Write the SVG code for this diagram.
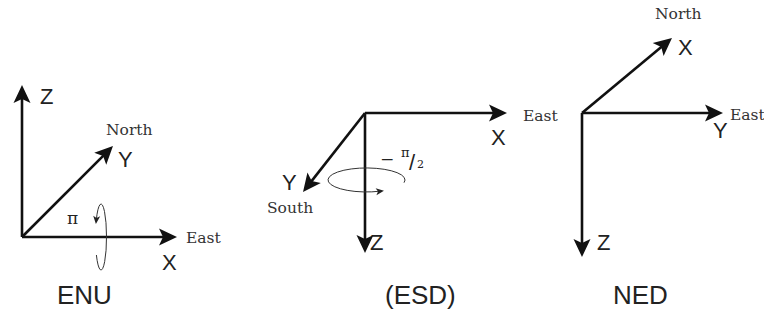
<svg xmlns="http://www.w3.org/2000/svg" width="764" height="320" viewBox="0 0 764 320">
<defs>
<marker id="ah" viewBox="-10 -10 22 20" markerWidth="22" markerHeight="20" refX="0" refY="0" orient="auto" markerUnits="userSpaceOnUse">
<path d="M10,0 L-8,-8.5 L-4,0 L-8,8.5 Z" fill="#111"/>
</marker>
<marker id="sm" viewBox="-6 -6 12 12" markerWidth="12" markerHeight="12" refX="0" refY="0" orient="auto" markerUnits="userSpaceOnUse">
<path d="M4,0 L-4,-3.5 L-2,0 L-4,3.5 Z" fill="#222"/>
</marker>
<style>
.ax{stroke:#111;stroke-width:2.6;fill:none;marker-end:url(#ah)}
.rot{stroke:#333;stroke-width:1;fill:none;marker-end:url(#sm)}
.lbl{font-family:"Liberation Sans",Arial,sans-serif;font-size:22px;fill:#222}
.dir{font-family:"DejaVu Serif","Liberation Serif",serif;font-size:15.5px;fill:#333}
.ttl{font-family:"Liberation Sans",Arial,sans-serif;font-size:26px;fill:#222}
.sym{font-family:"DejaVu Serif","Liberation Serif",serif;fill:#222}
</style>
</defs>
<g id="connectors">
<line class="ax" x1="22" y1="237" x2="22" y2="95"/>
<line class="ax" x1="22" y1="237" x2="167" y2="237"/>
<line class="ax" x1="22" y1="237" x2="105.9" y2="153.1"/>
<path class="rot" d="M96.4,255 A5.5,33 0 1 0 96.3,220"/>
<line class="ax" x1="365" y1="113" x2="497" y2="113"/>
<line class="ax" x1="365" y1="113" x2="365" y2="243"/>
<line class="ax" x1="365" y1="113" x2="309.2" y2="184.1"/>
<path class="rot" d="M404,182.7 A38.5,12 0 1 0 380,191.2"/>
<line class="ax" x1="582" y1="113" x2="664.3" y2="44.4"/>
<line class="ax" x1="582" y1="113" x2="713" y2="113"/>
<line class="ax" x1="582" y1="113" x2="582" y2="247"/>
</g>
<g id="enu">
<text class="lbl" x="40" y="104">Z</text>
<text class="lbl" x="118" y="167">Y</text>
<text class="lbl" x="162" y="270">X</text>
<text class="dir" x="106" y="135">North</text>
<text class="dir" x="186" y="243">East</text>
<text class="sym" x="67" y="224" font-size="17">π</text>
<text class="ttl" x="57" y="304">ENU</text>
</g>
<g id="esd">
<text class="lbl" x="491" y="145">X</text>
<text class="lbl" x="370" y="250">Z</text>
<text class="lbl" x="282" y="190">Y</text>
<text class="dir" x="523" y="121">East</text>
<text class="dir" x="267" y="213">South</text>
<text class="sym" x="380" y="165" font-size="17">−</text>
<text class="sym" x="401" y="157" font-size="13">π</text>
<text class="lbl" x="409" y="170" font-size="19">/</text>
<text class="sym" x="417" y="168" font-size="11">2</text>
<text class="ttl" x="385" y="304">(ESD)</text>
</g>
<g id="ned">
<text class="lbl" x="678" y="55">X</text>
<text class="lbl" x="713" y="138">Y</text>
<text class="lbl" x="597" y="250">Z</text>
<text class="dir" x="655" y="19">North</text>
<text class="dir" x="730" y="120">East</text>
<text class="ttl" x="613" y="304">NED</text>
</g>
</svg>
